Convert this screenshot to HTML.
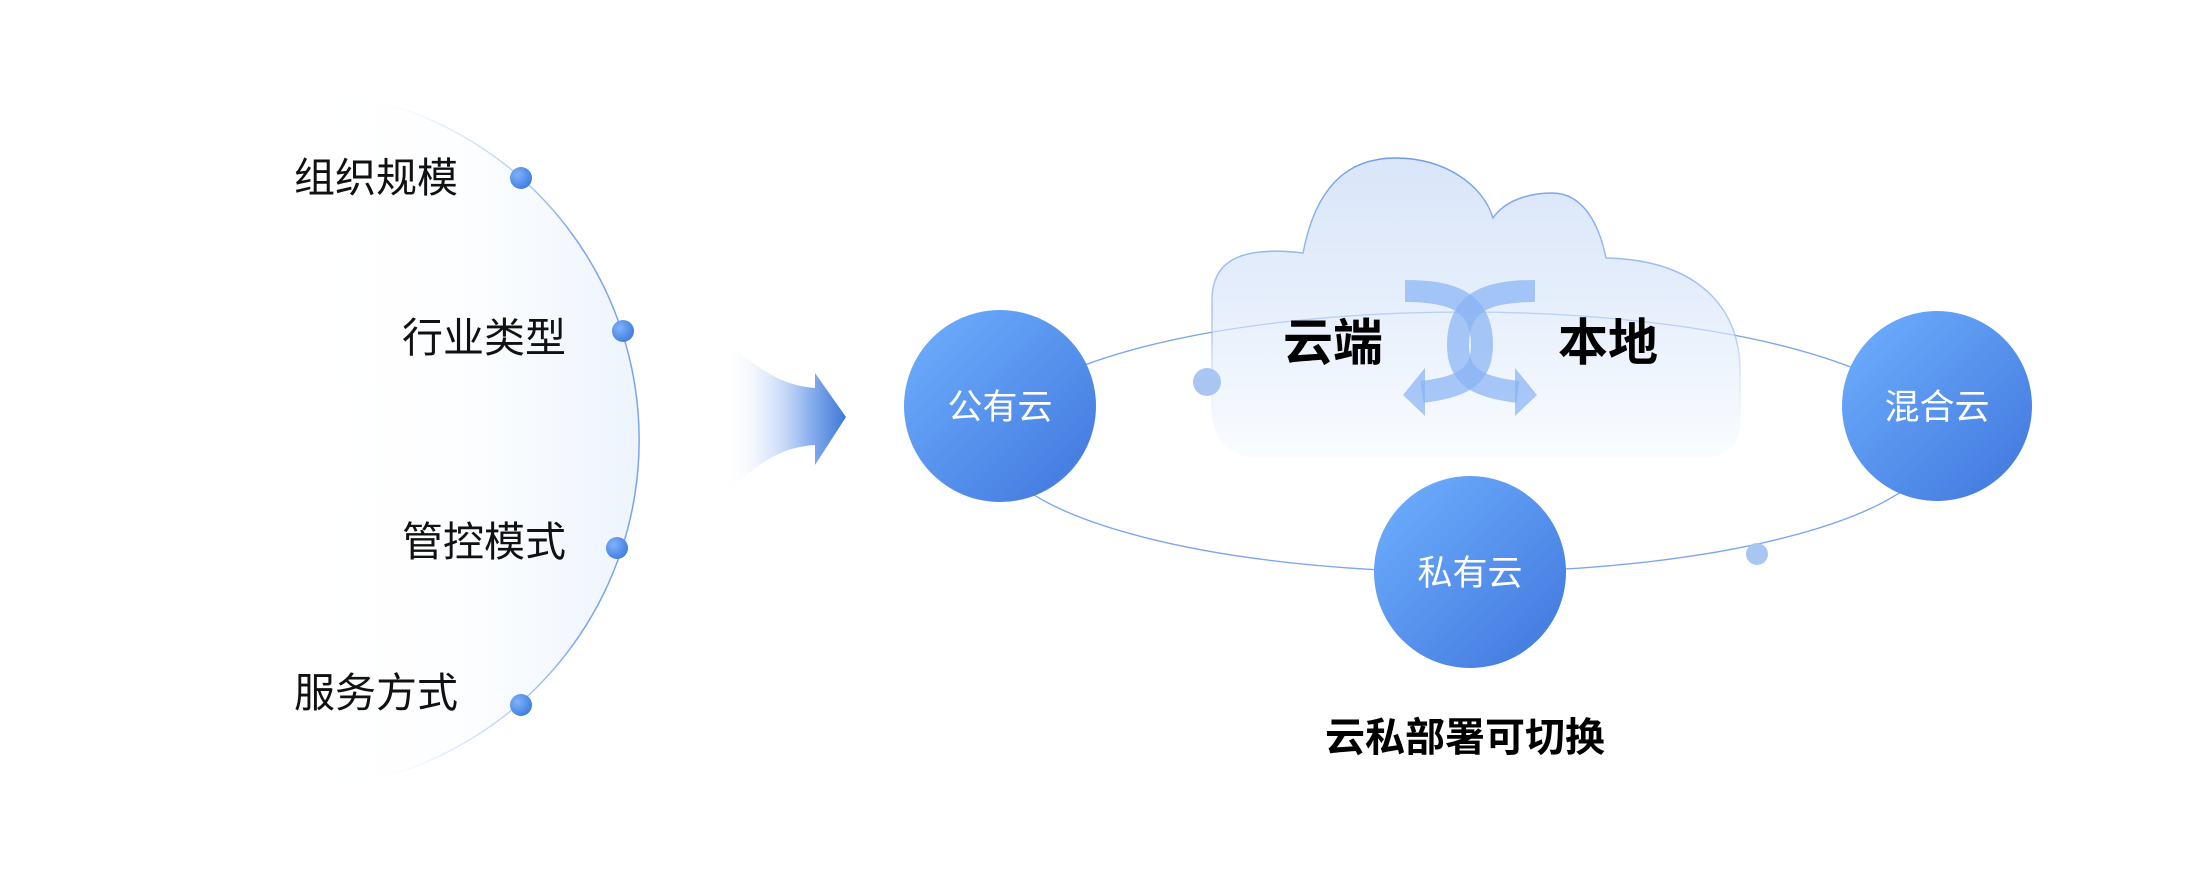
<!DOCTYPE html>
<html><head><meta charset="utf-8"><style>
html,body{margin:0;padding:0;background:#fff}
body{width:2209px;height:884px;overflow:hidden;position:relative;font-family:"Liberation Sans","Noto Sans CJK SC",sans-serif}
</style></head><body>
<svg width="2209" height="884" viewBox="0 0 2209 884" xmlns="http://www.w3.org/2000/svg" style="position:absolute;left:0;top:0">
<defs>
<linearGradient id="arcfill" x1="0" y1="0" x2="1" y2="0">
<stop offset="0" stop-color="#fff" stop-opacity="0"/><stop offset="0.55" stop-color="#fbfdff"/><stop offset="1" stop-color="#eef4fd"/></linearGradient>
<linearGradient id="arcstroke" x1="0" y1="0" x2="0" y2="1">
<stop offset="0" stop-color="#7aa5ee" stop-opacity="0"/><stop offset="0.2" stop-color="#7aa5ee"/><stop offset="0.8" stop-color="#7aa5ee"/><stop offset="1" stop-color="#7aa5ee" stop-opacity="0"/></linearGradient>
<radialGradient id="dot" cx="0.35" cy="0.35" r="0.7"><stop offset="0" stop-color="#7fb2fb"/><stop offset="1" stop-color="#3f7de0"/></radialGradient>
<linearGradient id="arrow" x1="0" y1="0" x2="1" y2="0"><stop offset="0" stop-color="#fff" stop-opacity="0"/><stop offset="0.7" stop-color="#8ab0ee"/><stop offset="1" stop-color="#3d78d8"/></linearGradient>
<linearGradient id="ball" x1="0" y1="0" x2="1" y2="1"><stop offset="0" stop-color="#6fb0ff"/><stop offset="1" stop-color="#4076dc"/></linearGradient>
<linearGradient id="cloud" x1="0" y1="0" x2="0" y2="1"><stop offset="0" stop-color="#d5e3f8"/><stop offset="0.45" stop-color="#e2ecfb"/><stop offset="1" stop-color="#f8fbff" stop-opacity="0.9"/></linearGradient>
<linearGradient id="cloudst" x1="0" y1="0" x2="0" y2="1"><stop offset="0" stop-color="#6f9be8"/><stop offset="0.6" stop-color="#9dbdf0" stop-opacity="0.7"/><stop offset="1" stop-color="#fff" stop-opacity="0"/></linearGradient>
</defs>
<path d="M290,90 A350,350 0 0 1 290,790 Z" fill="url(#arcfill)"/>
<path d="M380,102 A350,350 0 0 1 380,778" fill="none" stroke="url(#arcstroke)" stroke-width="1.5"/>
<circle cx="521" cy="178" r="11" fill="url(#dot)"/>
<circle cx="623" cy="331" r="11" fill="url(#dot)"/>
<circle cx="617" cy="548" r="11" fill="url(#dot)"/>
<circle cx="521" cy="705" r="11" fill="url(#dot)"/>
<g font-size="41" fill="#111" text-anchor="end" font-family="Liberation Sans, Noto Sans CJK SC, sans-serif">
<text x="458" y="192">组织规模</text>
<text x="566" y="352">行业类型</text>
<text x="566" y="556">管控模式</text>
<text x="458" y="707">服务方式</text>
</g>
<path d="M725,340 C760,370 780,385 815,388 L815,373 L846,417 L815,465 L815,445 C780,447 755,465 725,495 Z" fill="url(#arrow)"/>
<ellipse cx="1465" cy="442" rx="472" ry="130" fill="none" stroke="#7aa5ee" stroke-width="1.3"/>
<path d="M1262,458 Q1212,458 1212,405 L1212,300 C1212,258 1245,246 1303,253 C1315,190 1345,158 1395,158 C1445,158 1483,185 1493,218 C1505,200 1530,193 1552,193 C1585,193 1600,228 1606,258 C1700,260 1740,310 1740,370 L1740,420 Q1740,458 1700,458 Z" fill="url(#cloud)" fill-opacity="0.9" stroke="url(#cloudst)" stroke-width="1.5"/>
<ellipse cx="1465" cy="442" rx="472" ry="130" fill="none" stroke="#7aa5ee" stroke-width="1.3" stroke-opacity="0.35"/>
<g fill="none" stroke="#86b2f4" stroke-opacity="0.7" stroke-width="22">
<path d="M1405,291 C1450,291 1482,300 1482,345 C1482,380 1458,387 1422,392"/>
<path d="M1535,291 C1490,291 1458,300 1458,345 C1458,380 1482,387 1518,392"/>
</g>
<g fill="#86b2f4" fill-opacity="0.7">
<polygon points="1515,368 1537,395 1515,416"/>
<polygon points="1425,368 1403,395 1425,416"/>
</g>
<g font-size="50" font-weight="bold" fill="#000" text-anchor="middle" font-family="Liberation Sans, Noto Sans CJK SC, sans-serif">
<text x="1333" y="360">云端</text>
<text x="1608" y="360">本地</text>
</g>
<circle cx="1207" cy="382" r="14" fill="#a9c6f3"/>
<circle cx="1757" cy="554" r="11" fill="#a9c6f3"/>
<circle cx="1000" cy="406" r="96" fill="url(#ball)"/>
<circle cx="1937" cy="406" r="95" fill="url(#ball)"/>
<circle cx="1470" cy="572" r="96" fill="url(#ball)"/>
<g font-size="35" fill="#fff" text-anchor="middle" font-family="Liberation Sans, Noto Sans CJK SC, sans-serif">
<text x="1000" y="419">公有云</text>
<text x="1937" y="419">混合云</text>
<text x="1470" y="585">私有云</text>
</g>
<text x="1465" y="751" font-size="40" font-weight="bold" text-anchor="middle" fill="#000" font-family="Liberation Sans, Noto Sans CJK SC, sans-serif">云私部署可切换</text>
</svg>
</body></html>
